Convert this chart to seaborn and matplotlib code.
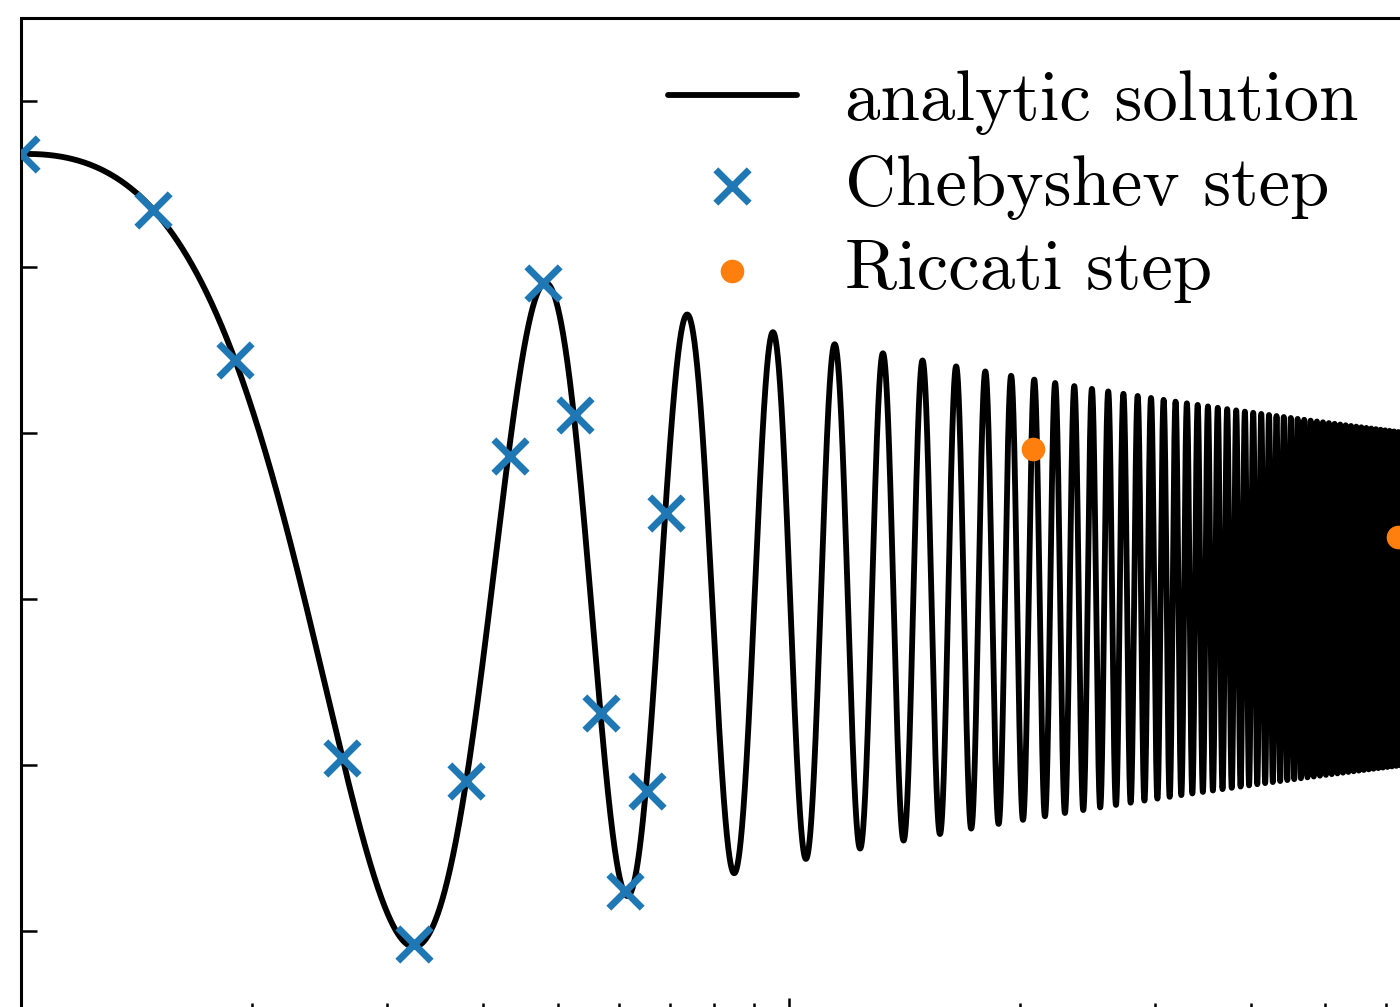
import matplotlib
matplotlib.use("Agg")
import matplotlib.pyplot as plt
import numpy as np
import seaborn as sns

# analytic solution of u'' + t u = 0 (Airy, Ai(-t)), start values read at t = 1
t_start = 1.0
t_end = 100.0
u_start = 0.5356
du_start = 0.0102

# Chebyshev steps (blue crosses)
cheb_t = [1.0, 1.486, 1.901, 2.621, 3.244, 3.80, 4.33, 4.79, 5.26, 5.69, 6.11, 6.53, 6.91]
cheb_u = [0.536, 0.468, 0.288, -0.192, -0.416, -0.220, 0.172, 0.380, 0.221, -0.137, -0.352, -0.231, 0.103]

# Riccati steps (orange dots)
ricc_t = [20.8, 62.2]
ricc_u = [0.180, 0.0745]

y_ticks = [-0.4, -0.2, 0.0, 0.2, 0.4, 0.6]


def solve_airy(t0, t1, u0, du0, h=1e-3):
    # plain RK4 for u'' = -t u
    n = int(round((t1 - t0) / h))
    t = t0 + h * np.arange(n + 1)
    u = np.empty(n + 1)
    u[0] = u0
    y, v = u0, du0
    for i in range(n):
        ti = t[i]
        k1y, k1v = v, -ti * y
        k2y, k2v = v + 0.5 * h * k1v, -(ti + 0.5 * h) * (y + 0.5 * h * k1y)
        k3y, k3v = v + 0.5 * h * k2v, -(ti + 0.5 * h) * (y + 0.5 * h * k2y)
        k4y, k4v = v + h * k3v, -(ti + h) * (y + h * k3y)
        y += h / 6 * (k1y + 2 * k2y + 2 * k3y + k4y)
        v += h / 6 * (k1v + 2 * k2v + 2 * k3v + k4v)
        u[i + 1] = y
    return t, u


t_line, u_line = solve_airy(t_start, t_end, u_start, du_start)

sns.set_style("ticks")
plt.rcParams["axes.unicode_minus"] = False
plt.rcParams["text.color"] = "black"

W, H = 1400, 1007
fig = plt.figure(figsize=(W / 100, H / 100), dpi=100)
# axes run past the right and bottom edge of the picture (cropped view)
left, top, bottom = 21.3, 17.5, 1014.0
right = left + 2 * 767.5
ax = fig.add_axes([left / W, (H - bottom) / H, (right - left) / W, (bottom - top) / H])

sns.lineplot(x=t_line, y=u_line, ax=ax, color="black", linewidth=4.2,
             estimator=None, sort=False, label="analytic solution")
sns.scatterplot(x=cheb_t, y=cheb_u, ax=ax, marker="x", color="#1f77b4",
                s=24 ** 2, linewidth=5.0, label="Chebyshev step", zorder=3)
sns.scatterplot(x=ricc_t, y=ricc_u, ax=ax, marker="o", color="#ff7f0e",
                s=17 ** 2, linewidth=0, label="Riccati step", zorder=3)

ax.set_xscale("log")
ax.set_xlim(t_start, t_end)
ax.set_ylim(-0.5, 0.7)
ax.set_yticks(y_ticks)
ax.tick_params(which="both", direction="in", top=False, right=False,
               labelleft=False, labelbottom=False, width=1.8, color="black")
ax.tick_params(which="major", length=11.5)
ax.tick_params(which="minor", length=8)
for sp in ax.spines.values():
    sp.set_linewidth(2.2)
    sp.set_color("black")
ax.set_xlabel("")
ax.set_ylabel("")

leg = ax.legend(loc="upper left", bbox_to_anchor=(668 / W, 1 - 70 / H),
                bbox_transform=fig.transFigure, frameon=False, borderpad=0,
                borderaxespad=0, handlelength=1.82, handletextpad=0.68,
                labelspacing=0.28, prop={"family": "cmr10", "size": 51})
for txt in leg.get_texts():
    txt.set_color("black")

fig.savefig("out.png", dpi=100)
